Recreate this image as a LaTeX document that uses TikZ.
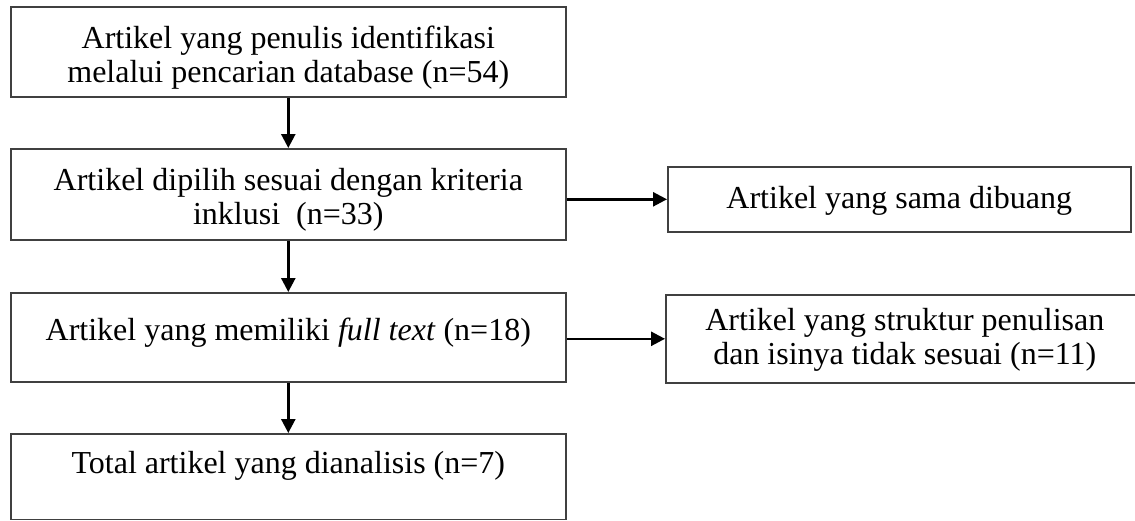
\documentclass[tikz,border=0pt]{standalone}
\usepackage{fontspec}
\setmainfont{Liberation Serif}
\usetikzlibrary{arrows.meta}

\begin{document}
\begin{tikzpicture}[x=1pt, y=-1pt,
		box/.style={draw=black!75, line width=1.6pt, inner sep=0pt, anchor=north west, align=flush center, font=\fontsize{32}{34}\selectfont},
		flow/.style={line width=2.6pt, -{Triangle[length=14pt, width=14pt]}}]
			%%%%% START %%%%%
			
			\useasboundingbox (0,0) rectangle (1135,520);
			
			\node[box, text width=555pt, text height=42pt, text depth=48pt] (ident) at (10,6) {Artikel yang penulis identifikasi\\melalui pencarian database (n=54)};
			\node[box, text width=555pt, text height=42pt, text depth=49pt] (select) at (10,148) {Artikel dipilih sesuai dengan kriteria\\inklusi\ \ (n=33)};
			\node[box, text width=463pt, text height=42pt, text depth=23pt] (same) at (667,166) {Artikel yang sama dibuang};
			
			\node[box, text width=555pt, text height=48pt, text depth=41pt] (full) at (10,292) {Artikel yang memiliki \textit{full text} (n=18)};
			\node[box, text width=478pt, text height=36pt, text depth=52pt] (unfit) at (665,294) {Artikel yang struktur penulisan\\dan isinya tidak sesuai (n=11)};
			
			\node[box, text width=555pt, text height=40pt, text depth=45.5pt] (total) at (10,433) {Total artikel yang dianalisis (n=7)};
			
			\draw[flow] (ident.south) -- (select.north);
			\draw[flow] (select.east |- same.west) -- (same.west);
			\draw[flow] (select.south) -- (full.north);
			\draw[flow] (full.east |- unfit.west) -- (unfit.west);
			\draw[flow] (full.south) -- (total.north);
			
			%%%%% END %%%%%
\end{tikzpicture}
\end{document}
